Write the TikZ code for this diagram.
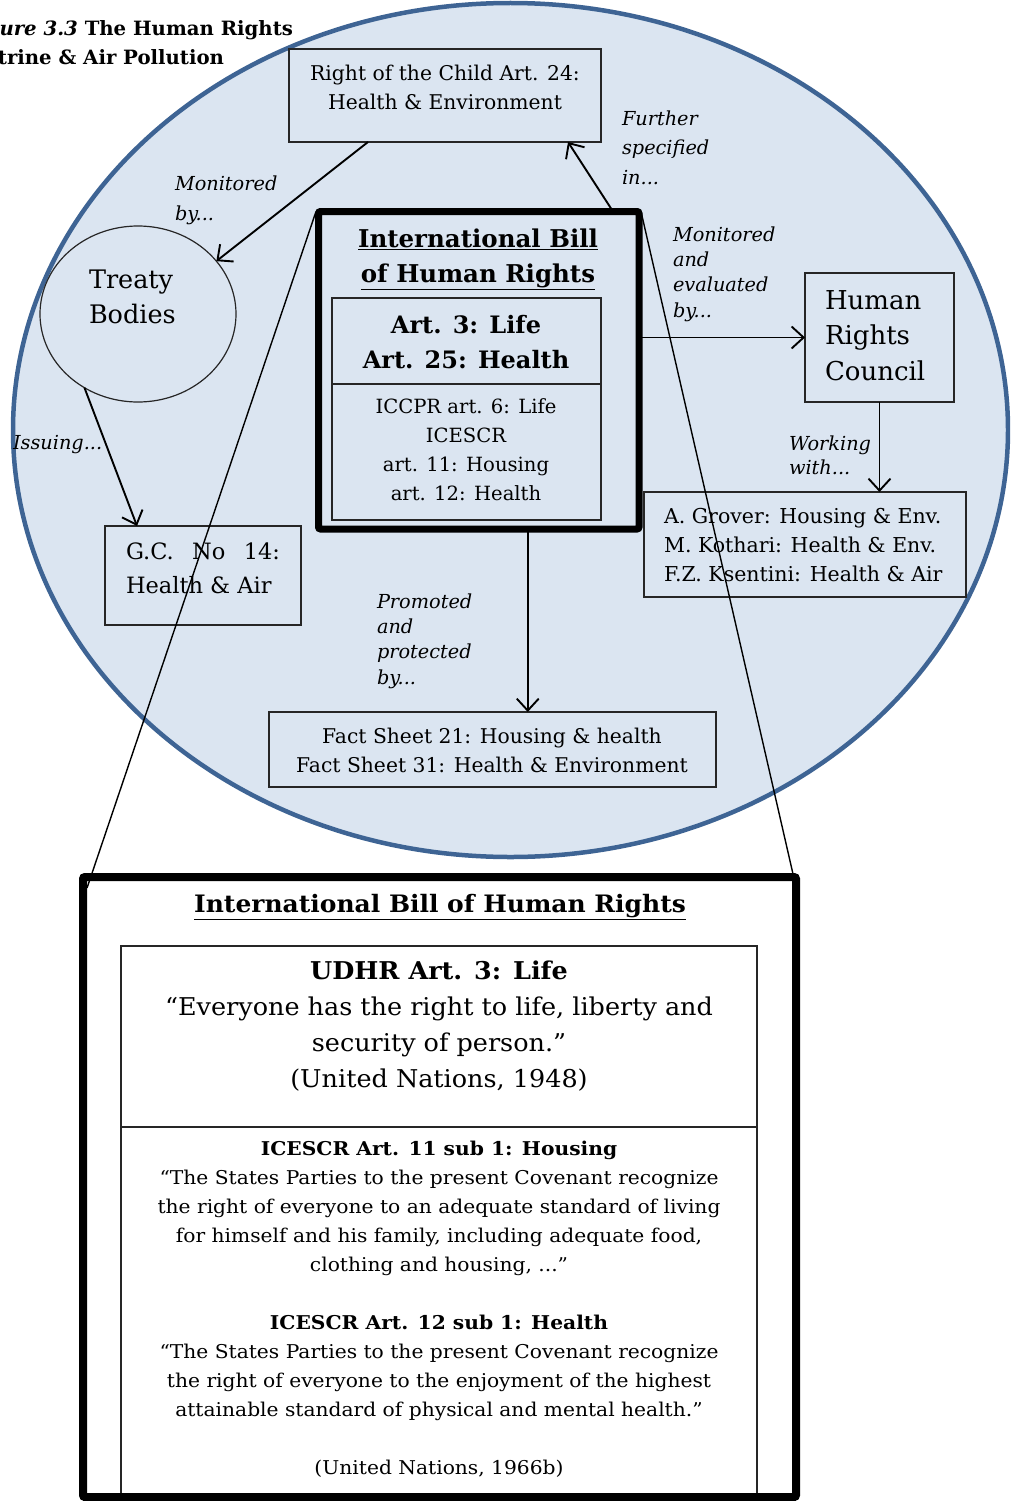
\documentclass[tikz,border=0pt]{standalone}
\usepackage{fontspec}
\setmainfont{DejaVu Serif}
\usepackage{graphicx}
\usetikzlibrary{arrows.meta,shapes.geometric}
\definecolor{ellfill}{HTML}{DBE5F1}
\definecolor{ellline}{HTML}{3E6494}
\newcommand{\fsz}[2]{\fontsize{#1}{#2}\selectfont}
\newcommand{\cndA}[1]{\scalebox{1.04}[1]{#1}}
\newcommand{\cndB}[1]{\scalebox{1.065}[1]{#1}}
\begin{document}
\begin{tikzpicture}[x=1pt,y=-1pt,
  box/.style={draw=black!85, line width=1.2pt, inner sep=0pt, outer sep=0pt},
  thickbox/.style={draw=black, inner sep=0pt, outer sep=0pt, rounded corners=2pt},
  txt/.style={inner sep=0pt, outer sep=0pt, align=center},
  lab/.style={inner sep=0pt, outer sep=0pt, align=left, anchor=west},
  conn/.style={line width=1.9pt, -{Straight Barb[length=12pt,width=22pt]}},
  zoomline/.style={line width=1.4pt, black}
]
\useasboundingbox (0,0) rectangle (1010,1501);
\clip (0,0) rectangle (1010,1501);

% big ellipse
\node[ellipse, draw=ellline, fill=ellfill, line width=4.5pt, minimum width=995pt, minimum height=854pt, inner sep=0pt] (world) at (510.5,430) {};

% title
\node[txt, anchor=base east, font=\fsz{19.7}{29}\bfseries] (title1) at (293,36) {\textit{Figure 3.3} The Human Rights};
\node[txt, anchor=base east, font=\fsz{19.7}{29}\bfseries] (title2) at (224,65) {Doctrine \& Air Pollution};

% boxes
\node[box, minimum width=312pt, minimum height=93pt] (child) at (445,95.5) {};
\node[txt, font=\fsz{20.3}{29}] (childt) at (445,87.5) {Right of the Child Art. 24:\\Health \& Environment};

\node[box, ellipse, minimum width=196pt, minimum height=176pt] (treaty) at (138,314) {};
\node[lab, font=\fsz{25.5}{35}] (treatyt) at (89,296.5) {Treaty\\Bodies};

\node[box, minimum width=196pt, minimum height=99pt] (gc) at (203,575.5) {};
\node[lab, font=\fsz{22.5}{34}] (gct) at (126,568) {\makebox[154pt][s]{G.C. No 14:}\\Health \& Air};

\node[thickbox, line width=7pt, minimum width=320.5pt, minimum height=317.5pt] (ib) at (478.75,370.25) {};
\node[txt, font=\fsz{24.5}{35}\bfseries] (ibt) at (478,259.5) {\underline{International Bill}\\\underline{of Human Rights}};
\node[box, minimum width=269pt, minimum height=222pt] (ibin) at (466.5,409) {};
\draw[line width=1.2pt, black!85] (ibin.west |- 0,384) -- (ibin.east |- 0,384);
\node[txt, font=\fsz{24}{35}\bfseries] (ibart) at (466,342.5) {Art. 3: Life\\Art. 25: Health};
\node[txt, font=\fsz{19.6}{29}] (ibcov) at (466,450) {ICCPR art. 6: Life\\ICESCR\\art. 11: Housing\\art. 12: Health};

\node[box, minimum width=149pt, minimum height=129pt] (hrc) at (879.5,337.5) {};
\node[lab, font=\fsz{26}{35.5}] (hrct) at (825,335.5) {Human\\Rights\\Council};

\node[box, minimum width=322pt, minimum height=105pt] (exp) at (805,544.5) {};
\node[lab, font=\fsz{20.5}{29}] (expt) at (664,545) {A. Grover: Housing \& Env.\\M. Kothari: Health \& Env.\\F.Z. Ksentini: Health \& Air};

\node[box, minimum width=447pt, minimum height=75pt] (fact) at (492.5,749.5) {};
\node[txt, font=\fsz{20.3}{29}] (factt) at (492,750.5) {Fact Sheet 21: Housing \& health\\Fact Sheet 31: Health \& Environment};

% labels
\node[lab, font=\fsz{19.3}{29.5}\itshape] (l1) at (622,147.5) {Further\\specified\\in...};
\node[lab, font=\fsz{19.3}{30}\itshape] (l2) at (175,200) {Monitored\\by...};
\node[lab, font=\fsz{19.3}{25}\itshape] (l3) at (13,445) {Issuing...};
\node[lab, font=\fsz{19.3}{25.3}\itshape] (l4) at (673,274) {Monitored\\and\\evaluated\\by...};
\node[lab, font=\fsz{19.3}{24}\itshape] (l5) at (789,455) {Working\\with...};
\node[lab, font=\fsz{19.3}{25.3}\itshape] (l6) at (377,641) {Promoted\\and\\protected\\by...};

% connectors
\draw[conn] ([xshift=-26pt]ib.north east) -- ([xshift=-33pt]child.south east);
\draw[conn] ([xshift=79pt]child.south west) -- (treaty.34);
\draw[conn] (treaty.234) -- ([xshift=32pt]gc.north west);
\draw[conn] (ib.east |- hrc.west) -- (hrc.west);
\draw[conn] (hrc.south) -- (hrc.south |- exp.north);
\draw[conn] ([xshift=49pt]ib.south) -- ([xshift=49pt]ib.south |- fact.north);

% lower box
\node[thickbox, fill=white, line width=8pt, minimum width=713pt, minimum height=620pt] (lower) at (439.5,1187) {};
\node[box, minimum width=636pt, minimum height=551pt] (lowin) at (439,1221.5) {};
\draw[line width=1.2pt, black!85] (lowin.west |- 0,1127) -- (lowin.east |- 0,1127);
\draw[line width=8pt, black] (lower.south west) -- (lower.south east);

\node[txt, font=\fsz{24}{30}\bfseries] (lowt) at (440,907) {\cndA{\underline{International Bill of Human Rights}}};
\node[txt, font=\fsz{24.5}{36}] (udhr) at (439,1026.5) {\cndA{\textbf{UDHR Art. 3: Life}}\\\cndA{“Everyone has the right to life, liberty and}\\\cndA{security of person.”}\\\cndA{(United Nations, 1948)}};
\node[txt, font=\fsz{19}{29}] (icescr) at (439,1309.5) {\cndB{\textbf{ICESCR Art. 11 sub 1: Housing}}\\\cndB{“The States Parties to the present Covenant recognize}\\\cndB{the right of everyone to an adequate standard of living}\\\cndB{for himself and his family, including adequate food,}\\\cndB{clothing and housing, ...”}\\\mbox{}\\\cndB{\textbf{ICESCR Art. 12 sub 1: Health}}\\\cndB{“The States Parties to the present Covenant recognize}\\\cndB{the right of everyone to the enjoyment of the highest}\\\cndB{attainable standard of physical and mental health.”}\\\mbox{}\\\cndB{(United Nations, 1966b)}};

% zoom lines
\draw[zoomline] ([xshift=-2.5pt]ib.north west) -- ([xshift=4pt,yshift=-11pt]lower.north west);
\draw[zoomline] ([xshift=2pt]ib.north east) -- ([xshift=-3pt,yshift=3pt]lower.north east);
\end{tikzpicture}
\end{document}
